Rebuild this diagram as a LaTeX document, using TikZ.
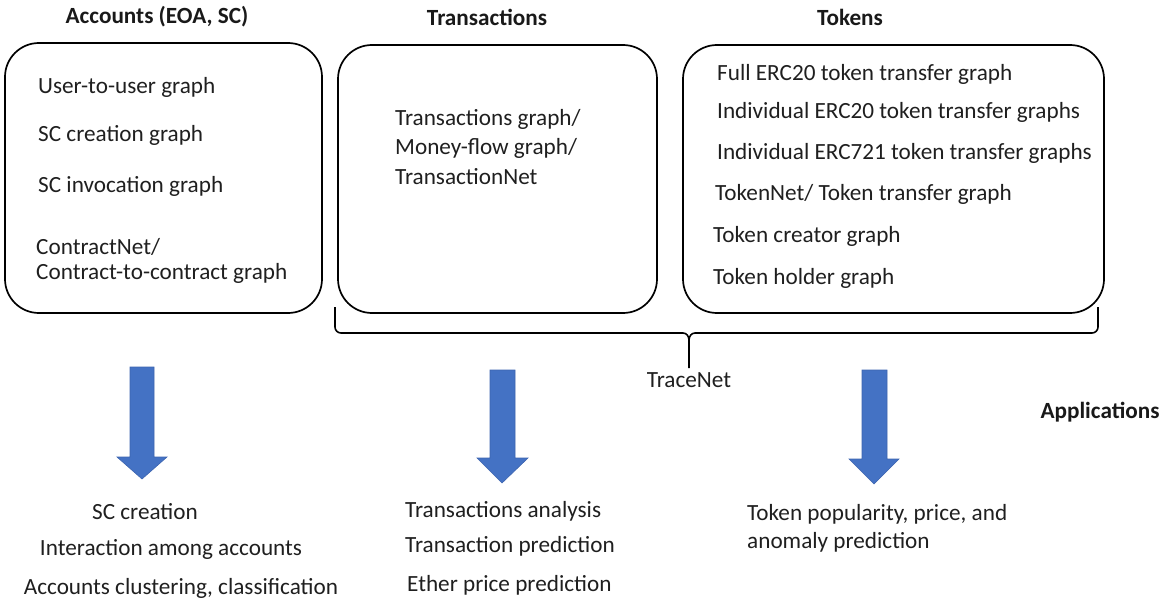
\documentclass[tikz,border=0pt]{standalone}
\usepackage{fontspec}
\setmainfont{Carlito}
\begin{document}
\begin{tikzpicture}[x=1pt,y=-1pt,
  panel/.style={draw=black,line width=1.7pt,rounded corners=34pt},
  head/.style={font=\fontsize{23.2}{26}\selectfont\bfseries,text=black!90},
  item/.style={font=\fontsize{23.2}{27}\selectfont,text=black!88,anchor=west,inner sep=0pt,yshift=-1.5pt},
  app/.style={font=\fontsize{23.2}{27}\selectfont,text=black!88,inner sep=0pt,yshift=-1.5pt},
  brace/.style={draw=black,line width=1.6pt},
  blockarrow/.style={fill={rgb,255:red,68;green,114;blue,196},draw={rgb,255:red,60;green,100;blue,175},line width=0.6pt}]
\useasboundingbox (0,0) rectangle (1161,599);

% column headings
\node[head] (hacc) at (157,17) {Accounts (EOA, SC)};
\node[head] (htx)  at (487,17) {Transactions};
\node[head] (htok) at (850,17) {Tokens};
\node[head] (happ) at (1100,412) {Applications};

% the three panels
\draw[panel] (5,43) rectangle (322,313);
\draw[panel] (338,45) rectangle (657,313);
\draw[panel] (683,45) rectangle (1104,313);

% accounts panel
\node[item] (a1) at (38,86)  {User-to-user graph};
\node[item] (a2) at (38,134) {SC creation graph};
\node[item] (a3) at (38,185) {SC invocation graph};
\node[item] (a4) at (36,245) {ContractNet/};
\node[item] (a5) at (36,272) {Contract-to-contract graph};

% transactions panel
\node[item] (t1) at (395,118) {Transactions graph/};
\node[item] (t2) at (395,147) {Money-flow graph/};
\node[item] (t3) at (395,175) {TransactionNet};

% tokens panel
\node[item] (k1) at (717,73)  {Full ERC20 token transfer graph};
\node[item] (k2) at (717,111) {Individual ERC20 token transfer graphs};
\node[item] (k3) at (717,152) {Individual ERC721 token transfer graphs};
\node[item] (k4) at (715,193) {TokenNet/ Token transfer graph};
\node[item] (k5) at (713,235) {Token creator graph};
\node[item] (k6) at (713,277) {Token holder graph};

% brace grouping transactions and tokens
\coordinate (bl) at (335,307);
\coordinate (br) at (1098,307);
\coordinate (bt) at (689,368);
\draw[brace] (bl) -- (335,327) to[out=-90,in=180] (341,333) -- (683,333)
  to[out=0,in=90] (689,340) -- (bt);
\draw[brace] (br) -- (1098,327) to[out=-90,in=0] (1092,333) -- (695,333)
  to[out=180,in=90] (689,340);
\node[app,anchor=north] (tn) at (689,371) {TraceNet};

% block arrows towards the applications
\path[blockarrow] (130,367) -- (154,367) -- (154,457) -- (167,457) -- (142,479)
  -- (117,457) -- (130,457) -- cycle;
\path[blockarrow] (490,370) -- (515,370) -- (515,458) -- (528,458) -- (502,483)
  -- (477,458) -- (490,458) -- cycle;
\path[blockarrow] (862,370) -- (887,370) -- (887,459) -- (899,459) -- (874,484)
  -- (849,459) -- (862,459) -- cycle;

% applications
\node[app] (p1) at (145,510) {SC creation};
\node[app] (p2) at (171,548) {Interaction among accounts};
\node[app] (p3) at (181,587) {Accounts clustering, classification};
\node[item] (q1) at (405,510) {Transactions analysis};
\node[item] (q2) at (405,545) {Transaction prediction};
\node[item] (q3) at (407,584) {Ether price prediction};
\node[item] (r1) at (747,513) {Token popularity, price, and};
\node[item] (r2) at (747,541) {anomaly prediction};
\end{tikzpicture}
\end{document}
